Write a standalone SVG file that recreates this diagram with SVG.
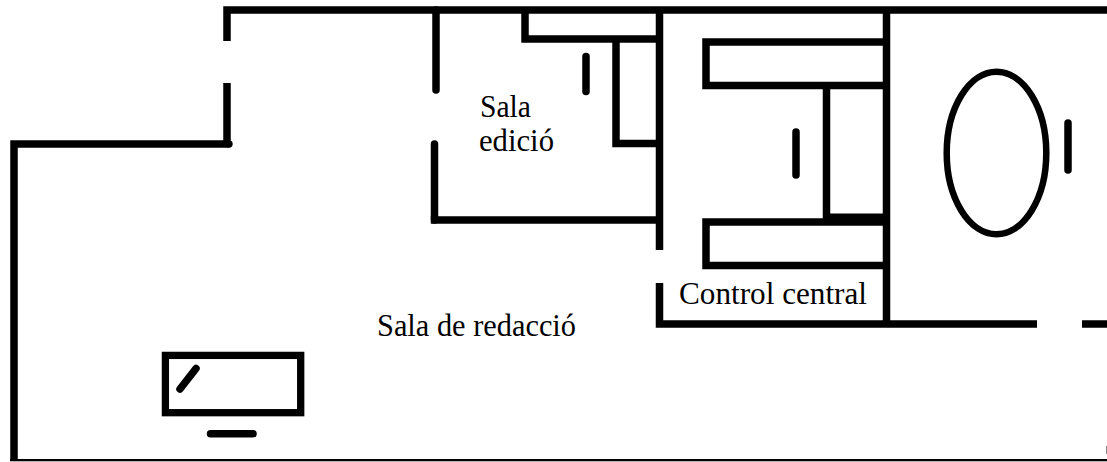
<svg xmlns="http://www.w3.org/2000/svg" width="1107" height="462" viewBox="0 0 1107 462">
<style>
.w{fill:none;stroke:#000;stroke-width:7.500;stroke-linejoin:miter}
.r{fill:none;stroke:#000;stroke-width:7.500;stroke-linecap:round}
.t{font-family:"Liberation Serif","Times New Roman",serif;font-size:31px;fill:#000}
</style>
<rect width="1107" height="462" fill="#fff"/>
<g id="walls">
<path class="w" d="M1107 10H227V41"/>
<path class="w" d="M227 83V144"/>
<path class="w" d="M229 144H14V459"/>
<circle cx="229" cy="144" r="3.700" fill="#000"/>
<rect x="10" y="459" width="1097" height="2.300" fill="#000"/>
<path class="w" d="M659.500 10V250"/>
<path class="w" d="M659.500 283V324H1037"/>
<path class="w" d="M1082 324H1107"/>
<path class="w" d="M886.500 10V324"/>
<rect x="1106" y="446" width="1" height="8" fill="#888"/>
</g>
<g id="sala-edicio">
<path class="r" d="M436 10V90"/>
<path class="r" d="M434.500 144V220"/>
<path class="w" d="M430.800 220H659"/>
<path class="w" d="M525 10V39H659"/>
<path class="w" d="M616 39V143.500H659"/>
<path class="r" d="M586 56.500V91.500"/>
</g>
<g id="control-central">
<path class="w" d="M886 42H706V85.500H886"/>
<path class="w" d="M886 222H706V265.500H886"/>
<path class="w" d="M826.500 85.500V219"/>
<rect x="823" y="213.500" width="64" height="10" fill="#000"/>
<path class="r" d="M796 132V175"/>
</g>
<g id="table">
<ellipse cx="996.500" cy="153" rx="49.800" ry="81.300" fill="none" stroke="#000" stroke-width="6.500"/>
<path class="r" d="M1068 123V170"/>
</g>
<g id="desk">
<rect x="165.400" y="355.400" width="135.300" height="57.300" fill="none" stroke="#000" stroke-width="7.300"/>
<path class="r" d="M180 389L196 368.500"/>
<path class="r" d="M210.500 433.700H253"/>
</g>
<g id="labels">
<text class="t" x="480" y="117" textLength="51" lengthAdjust="spacingAndGlyphs">Sala</text>
<text class="t" x="479" y="151" textLength="75" lengthAdjust="spacingAndGlyphs">edició</text>
<text class="t" x="679" y="304" textLength="188" lengthAdjust="spacingAndGlyphs">Control central</text>
<text class="t" x="377" y="336" textLength="199" lengthAdjust="spacingAndGlyphs">Sala de redacció</text>
</g>
</svg>
